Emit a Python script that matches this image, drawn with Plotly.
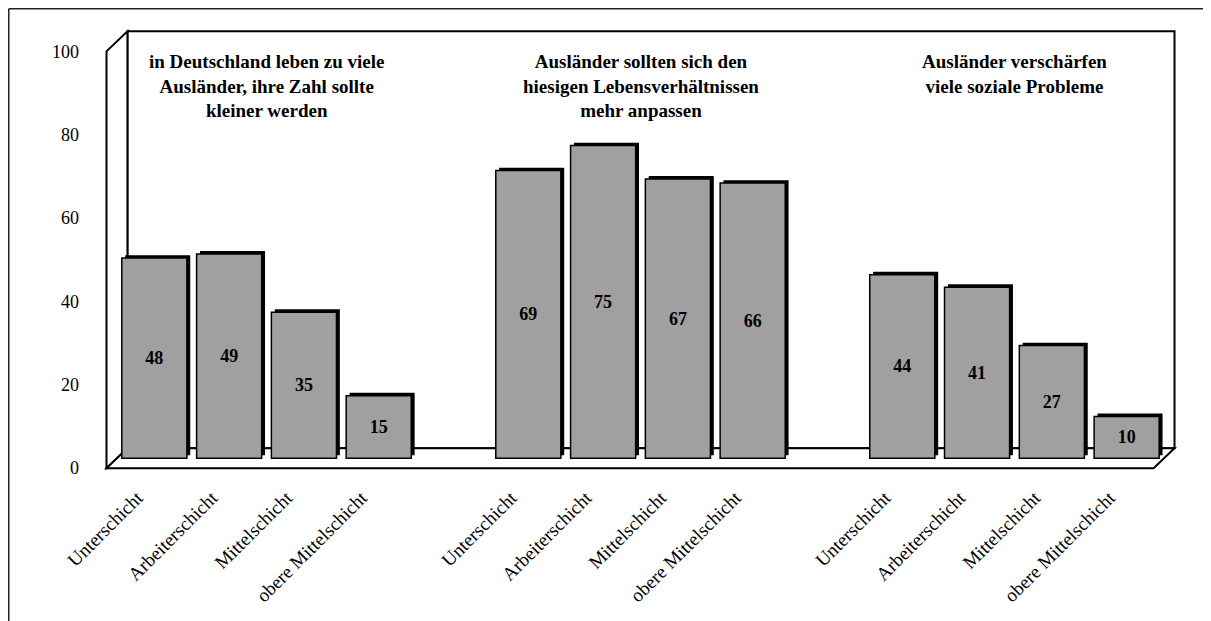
import plotly.graph_objects as go

# ---------------- data ----------------
classes = ["Unterschicht", "Arbeiterschicht", "Mittelschicht", "obere Mittelschicht"]
group_titles = [
    "in Deutschland leben zu viele<br>Ausländer, ihre Zahl sollte<br>kleiner werden",
    "Ausländer sollten sich den<br>hiesigen Lebensverhältnissen<br>mehr anpassen",
    "Ausländer verschärfen<br>viele soziale Probleme",
]
values_zahl_kleiner = [48, 49, 35, 15]
values_anpassen = [69, 75, 67, 66]
values_probleme = [44, 41, 27, 10]
y_ticks = [0, 20, 40, 60, 80, 100]

groups = [values_zahl_kleiner, values_anpassen, values_probleme]

# slot positions: 4 bars per group, one empty slot between groups
x_pos, y_val, x_lab = [], [], []
for g, vals in enumerate(groups):
    for i, v in enumerate(vals):
        x_pos.append(g * 5 + i)
        y_val.append(v)
        x_lab.append(classes[i])
group_centers = [g * 5 + 1.5 for g in range(len(groups))]

# ---------------- geometry / style ----------------
FONT = "Liberation Serif"
X0, X1 = -0.5, 13.5          # category plane extents
DX, DY = 0.14, 2.4           # pseudo-3D depth offset (data units)
BAR_W = 0.87
SH_DX, SH_DY = 0.045, 0.7    # bar side/top shading offset
LAB_DX = 0.23                # category labels sit slightly left of slot centres
W, H = 1203, 613             # page body has an 8px margin
ML, MR, MT, MB = 94, 32, 0, 142
XR = [-0.7, 13.7]
YR = [-5, 108]
YMAX = 100

fig = go.Figure()

# shading (3D side/top of bars)
fig.add_trace(go.Bar(
    x=x_pos, y=y_val, base=SH_DY, width=BAR_W, offset=-BAR_W / 2 + SH_DX,
    marker=dict(color="black", line=dict(width=0)),
    hoverinfo="skip", showlegend=False,
))
# main bars
fig.add_trace(go.Bar(
    x=x_pos, y=y_val, width=BAR_W,
    marker=dict(color="#A0A0A0", line=dict(color="black", width=1.5)),
    text=[str(v) for v in y_val], textposition="inside", insidetextanchor="middle",
    textfont=dict(family=FONT, size=18, color="black", weight="bold"),
    textangle=0, constraintext="none",
    showlegend=False,
))
# invisible trace to drive front-plane value axis and category label axis
fig.add_trace(go.Scatter(x=[x_pos[0]], y=[0], xaxis="x2", yaxis="y2", mode="markers",
                         marker=dict(opacity=0), hoverinfo="skip", showlegend=False))

line = dict(color="black", width=2)
shapes = [
    # back wall
    dict(type="rect", xref="x", yref="y", x0=X0 + DX, x1=X1 + DX, y0=DY, y1=YMAX + DY,
         line=line, fillcolor="white", layer="below"),
    # left side wall
    dict(type="path", xref="x", yref="y",
         path=f"M {X0-DX},{-DY} L {X0-DX},{YMAX-DY} L {X0+DX},{YMAX+DY} L {X0+DX},{DY} Z",
         line=line, fillcolor="white", layer="below"),
    # floor
    dict(type="path", xref="x", yref="y",
         path=f"M {X0-DX},{-DY} L {X1-DX},{-DY} L {X1+DX},{DY} L {X0+DX},{DY} Z",
         line=line, fillcolor="white", layer="below"),
]
# outer frame: only its top and left edges are inside the picture
pw, ph = W - ML - MR, H - MT - MB
fx0 = (0.75 - ML) / pw
fx1 = (W - ML) / pw
fy_top = 1 - (0.75 - MT) / ph
fy_bot = 1 - (H - MT) / ph
frame_line = dict(color="#222222", width=1.5)
shapes.append(dict(type="line", xref="paper", yref="paper",
                   x0=fx0, x1=fx1, y0=fy_top, y1=fy_top, line=frame_line, layer="below"))
shapes.append(dict(type="line", xref="paper", yref="paper",
                   x0=fx0, x1=fx0, y0=fy_bot, y1=fy_top, line=frame_line, layer="below"))

annotations = [
    dict(x=cx, y=98.2, xref="x", yref="y", text=f"<b>{t}</b>", showarrow=False,
         xanchor="center", yanchor="top", align="center",
         font=dict(family=FONT, size=19, color="black"))
    for cx, t in zip(group_centers, group_titles)
]

fig.update_layout(
    width=W, height=H,
    margin=dict(l=ML, r=MR, t=MT, b=MB, pad=0, autoexpand=False),
    paper_bgcolor="white", plot_bgcolor="rgba(0,0,0,0)",
    barmode="overlay",
    shapes=shapes, annotations=annotations,
    xaxis=dict(range=XR, showgrid=False, zeroline=False, showline=False,
               showticklabels=False, ticks="", automargin=False),
    xaxis2=dict(range=[XR[0] + LAB_DX, XR[1] + LAB_DX], overlaying="x", side="bottom",
                tickmode="array", tickvals=x_pos, ticktext=x_lab,
                tickangle=-45, showgrid=False, zeroline=False, showline=False,
                ticks="", ticklabelstandoff=3, automargin=False,
                tickfont=dict(family=FONT, size=19, color="black")),
    yaxis=dict(range=YR, showgrid=False, zeroline=False, showline=False,
               showticklabels=False, ticks="", automargin=False),
    yaxis2=dict(range=[YR[0] + DY, YR[1] + DY], overlaying="y", side="left",
                tickmode="array", tickvals=y_ticks, showgrid=False, zeroline=False,
                showline=False, ticks="", ticklabelstandoff=22, automargin=False,
                tickfont=dict(family=FONT, size=18, color="black")),
    font=dict(family=FONT, color="black"),
)

fig.write_html("out.html")
